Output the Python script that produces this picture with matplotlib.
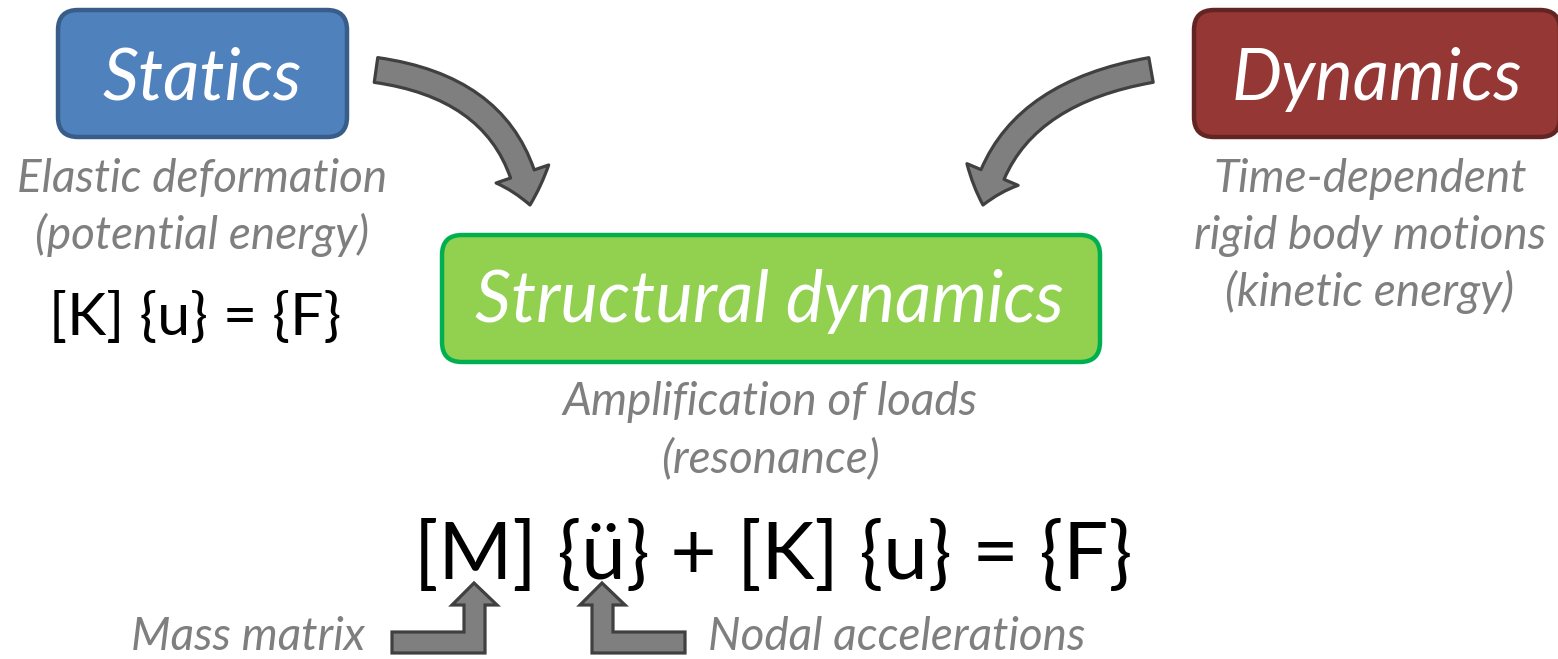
import matplotlib
matplotlib.use("Agg")
from matplotlib import pyplot as plt
from matplotlib.patches import FancyBboxPatch, FancyArrowPatch, Polygon, ArrowStyle

# box labels and the texts around them
box_labels = ["Statics", "Dynamics", "Structural dynamics"]
statics_notes = ["Elastic deformation", "(potential energy)"]
dynamics_notes = ["Time-dependent", "rigid body motions", "(kinetic energy)"]
struct_notes = ["Amplification of loads", "(resonance)"]
statics_eq = "[K] {u} = {F}"
dynamics_eq = "[M] {ü} + [K] {u} = {F}"
bottom_notes = ["Mass matrix", "Nodal accelerations"]

W, H = 1558, 659
FONT = "Lato"
GRAY_TXT = "#7f7f7f"
ARROW_FILL = "#7f7f7f"
ARROW_EDGE = "#404040"
BOX_FS = 51
NOTE_FS = 33

fig = plt.figure(figsize=(W / 100, H / 100), dpi=100)
ax = fig.add_axes([0, 0, 1, 1])
ax.set_xlim(0, W)
ax.set_ylim(H, 0)
ax.axis("off")


def box(x0, y0, x1, y1, fc, ec):
    p = FancyBboxPatch((x0, y0), x1 - x0, y1 - y0,
                       boxstyle="round,pad=0,rounding_size=20",
                       fc=fc, ec=ec, lw=3.2, zorder=2)
    ax.add_patch(p)


box(58, 10, 347, 137, "#4f81bd", "#385d8a")
box(1194, 10, 1560, 137, "#953735", "#632523")
box(442, 235, 1100, 362, "#92d050", "#00b050")

ax.text(202, 100, box_labels[0], color="white", fontsize=BOX_FS, style="italic",
        family=FONT, ha="center", va="baseline", zorder=3)
ax.text(1377, 100, box_labels[1], color="white", fontsize=BOX_FS, style="italic",
        family=FONT, ha="center", va="baseline", zorder=3)
ax.text(769, 322, box_labels[2], color="white", fontsize=BOX_FS, style="italic",
        family=FONT, ha="center", va="baseline", zorder=3)

for i, s in enumerate(statics_notes):
    ax.text(202, 192 + 57 * i, s, color=GRAY_TXT, fontsize=NOTE_FS, style="italic",
            family=FONT, ha="center", va="baseline")
for i, s in enumerate(dynamics_notes):
    ax.text(1370, 192 + 57 * i, s, color=GRAY_TXT, fontsize=NOTE_FS, style="italic",
            family=FONT, ha="center", va="baseline")
for i, s in enumerate(struct_notes):
    ax.text(770, 415 + 57 * i, s, color=GRAY_TXT, fontsize=NOTE_FS, style="italic",
            family=FONT, ha="center", va="baseline")

ax.text(195, 335, statics_eq, color="black", fontsize=42.5, family=FONT,
        ha="center", va="baseline")
ax.text(773, 579, dynamics_eq, color="black", fontsize=57.5, family=FONT,
        ha="center", va="baseline")

ax.text(365, 650, bottom_notes[0], color=GRAY_TXT, fontsize=NOTE_FS, style="italic",
        family=FONT, ha="right", va="baseline")
ax.text(708, 650, bottom_notes[1], color=GRAY_TXT, fontsize=NOTE_FS, style="italic",
        family=FONT, ha="left", va="baseline")

# curved block arrows
style = ArrowStyle("simple", head_length=23, head_width=40, tail_width=18)
for (a, b, angs) in [((376, 70), (530, 205), (-8, -81)),
                     ((1151, 70), (983, 205), (10, 78))]:
    arr = FancyArrowPatch(a, b, arrowstyle=style, mutation_scale=1,
                          connectionstyle=f"angle3,angleA={angs[0]},angleB={angs[1]}",
                          shrinkA=0, shrinkB=0,
                          fc=ARROW_FILL, ec=ARROW_EDGE, lw=2.3, zorder=2)
    ax.add_patch(arr)

# elbow arrows under the equation
left_elbow = [(392, 632), (464, 632), (464, 605), (452, 605), (474, 583),
              (497, 605), (485, 605), (485, 653), (392, 653)]
right_elbow = [(685, 632), (613, 632), (613, 605), (625, 605), (602, 583),
               (580, 605), (592, 605), (592, 653), (685, 653)]
for pts in (left_elbow, right_elbow):
    ax.add_patch(Polygon(pts, closed=True, fc=ARROW_FILL, ec=ARROW_EDGE,
                         lw=2.3, joinstyle="miter", zorder=2))

fig.savefig("out.png", dpi=100)
